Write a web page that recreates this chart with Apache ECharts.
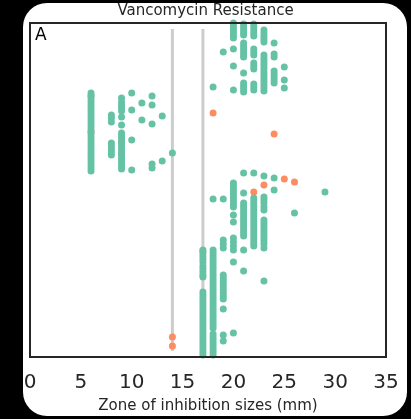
<!DOCTYPE html>
<html>
<head>
<meta charset="utf-8">
<script src="https://cdn.jsdelivr.net/npm/echarts@6/dist/echarts.min.js"></script>
<style>
html,body{margin:0;padding:0;background:#000;width:411px;height:419px;overflow:hidden;}
#card{position:absolute;left:23px;top:3px;width:384px;height:413px;background:#fff;border-radius:24px;}
#chart{position:absolute;left:0;top:0;width:411px;height:419px;}
</style>
</head>
<body>
<div id="card"></div>
<div id="chart"></div>
<script>
// x ticks
const xTicks = [0, 5, 10, 15, 20, 25, 30, 35];
// breakpoints (mm) drawn as vertical guide lines
const breakpoints = [14, 17];
const breakpointSpan = [6, 328];

// Susceptible isolates (green): y position (isolate order) per zone size column
const g6  = [70,73,76,79,82,85,88,91,94,97,100,103,106,109,112,115,118,121,124,127,130,133,136,139,142,145,148];
const g8  = [92,95,99,120,123,126,129,132];
const g9  = [75,79,82,85,88,94,102,110,113,116,119,122,125,128,131,134,137,140,143,146];
const g10 = [70,87,117,147];
const g11 = [80,97];
const g12 = [73,82,101,141,145];
const g13 = [93,138];
const g14 = [130];
const g17 = [227,230,233,236,239,243,246,249,252,254,269,272,275,278,281,284,287,290,293,296,299,302,305,308,311,314,317,320,323,326,329,332];
const g18 = [64,176,227,230,233,236,239,242,245,248,251,254,257,260,263,266,269,272,275,278,281,284,287,290,293,296,299,302,305,311,314,317,320,323,326,329,332];
const g19 = [29,176,217,221,225,252,255,258,261,264,267,270,273,276,286,312,318];
const g20 = [0,3,6,9,12,15,26,43,67,160,163,166,169,172,175,178,181,184,192,199,215,219,223,227,239,310];
const g21 = [1,4,7,10,12,20,23,26,29,32,34,50,60,63,66,69,150,170,180,183,186,189,192,195,198,201,204,207,210,213,227,248];
const g22 = [1,4,7,10,13,26,29,32,40,43,46,61,64,67,150,175,178,181,184,187,190,193,196,199,202,205,208,211,214,217,220,223];
const g23 = [7,10,13,16,19,32,35,38,41,44,47,50,53,56,59,62,65,68,153,174,177,180,184,187,197,200,203,206,209,212,215,218,221,225,258];
const g24 = [20,31,34,48,51,54,57,60,155,167];
const g25 = [44,57,65];
const g26 = [190];
const g29 = [169];
const greenColumns = [[6,g6],[8,g8],[9,g9],[10,g10],[11,g11],[12,g12],[13,g13],[14,g14],[17,g17],[18,g18],[19,g19],[20,g20],[21,g21],[22,g22],[23,g23],[24,g24],[25,g25],[26,g26],[29,g29]];

// Resistant isolates (orange)
const orangeX = [6, 6, 9, 9, 14, 14, 17, 18, 24, 22, 23, 25, 26];
const orangeY = [73, 109, 119, 131, 314, 323, 228, 90, 111, 169, 162, 156, 159];

const GREEN = '#66c2a5', ORANGE = '#fc8d62';
const greenData = [];
greenColumns.forEach(([x, ys]) => ys.forEach(y => greenData.push([x, y])));
const orangeData = orangeX.map((x, i) => [x, orangeY[i]]);

const chart = echarts.init(document.getElementById('chart'), null, {renderer: 'canvas'});
const font = 'DejaVu Sans';
const series = [];
breakpoints.forEach(b => series.push({
  type: 'line', data: [[b, breakpointSpan[0]], [b, breakpointSpan[1]]],
  symbol: 'none', lineStyle: {color: '#cccccc', width: 3}, z: 1, silent: true
}));
series.push({type: 'scatter', data: orangeData, symbolSize: 7, itemStyle: {color: ORANGE, opacity: 1}, z: 2});
series.push({type: 'scatter', data: greenData, symbolSize: 7, itemStyle: {color: GREEN, opacity: 1}, z: 3});

chart.setOption({
  backgroundColor: 'transparent',
  animation: false,
  textStyle: {fontFamily: font},
  grid: {left: 30, right: 25, top: 23, bottom: 62, show: true, borderColor: '#262626', borderWidth: 2, backgroundColor: 'transparent', z: 10, containLabel: false, outerBoundsMode: 'none'},
  xAxis: {
    type: 'value', min: 0, max: 35, interval: 5,
    axisLine: {show: false}, axisTick: {show: false}, splitLine: {show: false},
    axisLabel: {fontSize: 20, color: '#262626', margin: 16, fontFamily: font,
      formatter: v => xTicks.includes(v) ? String(v) : ''},
    name: 'Zone of inhibition sizes (mm)', nameLocation: 'middle', nameGap: 42,
    nameTextStyle: {fontSize: 15, color: '#262626', fontFamily: font}
  },
  yAxis: {
    type: 'value', min: 0, max: 334, inverse: true,
    axisLine: {show: false}, axisTick: {show: false}, splitLine: {show: false}, axisLabel: {show: false}
  },
  graphic: [
    {type: 'text', left: 'center', top: 4, style: {text: 'Vancomycin Resistance', font: '15px "DejaVu Sans"', fill: '#262626'}, x: 2},
    {type: 'text', left: 35, top: 27, style: {text: 'A', font: '17px "DejaVu Sans"', fill: '#000'}}
  ],
  series: series
});
</script>
</body>
</html>
